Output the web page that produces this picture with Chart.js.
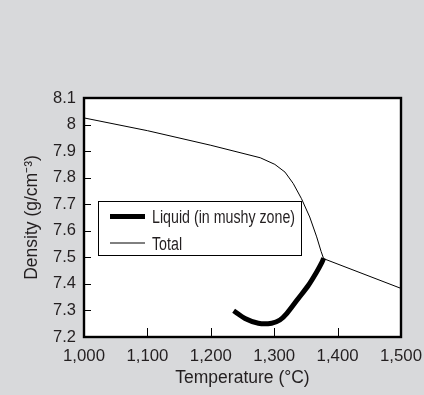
<!DOCTYPE html>
<html>
<head>
<meta charset="utf-8">
<script src="https://cdn.jsdelivr.net/npm/chart.js@4.4.0/dist/chart.umd.min.js"></script>
<style>
    html, body { margin: 0; padding: 0; background: #d8d9db; }
    canvas { display: block; }
</style>
</head>
<body>
<canvas id="densityChart" width="424" height="395"></canvas>
<script>
// Data
const totalTemps = [1000, 1100, 1200, 1278, 1301, 1317, 1330, 1343, 1356, 1367, 1374, 1378, 1500];
const totalDensity = [8.025, 7.977, 7.922, 7.875, 7.850, 7.821, 7.778, 7.721, 7.652, 7.577, 7.522, 7.495, 7.383];
const liquidTemps = [1236, 1254, 1275, 1296, 1309, 1320, 1338, 1354, 1367, 1375, 1378];
const liquidDensity = [7.299, 7.270, 7.252, 7.252, 7.264, 7.289, 7.345, 7.395, 7.445, 7.480, 7.497];
const xTickValues = [1000, 1100, 1200, 1300, 1400, 1500];
const xTickLabels = ["1,000", "1,100", "1,200", "1,300", "1,400", "1,500"];
const yTickValues = [7.2, 7.3, 7.4, 7.5, 7.6, 7.7, 7.8, 7.9, 8.0, 8.1];
const yTickLabels = ["7.2", "7.3", "7.4", "7.5", "7.6", "7.7", "7.8", "7.9", "8", "8.1"];

const textColor = "#231f20";
const fontFamily = "'Liberation Sans', Arial, sans-serif";

function toPoints(xs, ys) {
    return xs.map((x, i) => ({ x: x, y: ys[i] }));
}

// white plot area, frame, inward ticks, legend inside the plot
const framePlugin = {
    id: "frame",
    beforeDatasetsDraw(chart) {
        const a = chart.chartArea;
        const ctx = chart.ctx;
        ctx.save();
        ctx.fillStyle = "#ffffff";
        ctx.fillRect(a.left, a.top, a.right - a.left, a.bottom - a.top);
        ctx.restore();
    },
    afterDraw(chart) {
        const a = chart.chartArea;
        const ctx = chart.ctx;
        const xs = chart.scales.x;
        const ys = chart.scales.y;
        ctx.save();
        ctx.strokeStyle = "#000";
        ctx.lineWidth = 1;
        ctx.beginPath();
        xTickValues.forEach(v => {
            const px = Math.round(xs.getPixelForValue(v)) + 0.5;
            ctx.moveTo(px, a.bottom);
            ctx.lineTo(px, a.bottom - 9);
        });
        yTickValues.forEach(v => {
            const py = Math.round(ys.getPixelForValue(v)) + 0.5;
            ctx.moveTo(a.left, py);
            ctx.lineTo(a.left + 7, py);
        });
        ctx.stroke();

        ctx.lineWidth = 2.4;
        ctx.strokeRect(a.left, a.top, a.right - a.left, a.bottom - a.top);

        // legend
        const bx = 98.5, by = 201.5, bw = 203, bh = 54;
        ctx.fillStyle = "#fff";
        ctx.fillRect(bx, by, bw, bh);
        ctx.lineWidth = 1;
        ctx.strokeRect(bx, by, bw, bh);
        ctx.textBaseline = "alphabetic";
        ctx.textAlign = "left";
        const rows = [216.5, 243];
        chart.data.datasets.forEach((ds, i) => {
            const y = rows[i];
            ctx.strokeStyle = ds.borderColor;
            ctx.lineWidth = ds.borderWidth;
            ctx.beginPath();
            ctx.moveTo(110, y);
            ctx.lineTo(145, y);
            ctx.stroke();
            // condensed lettering like the original
            ctx.save();
            ctx.translate(152, y + 6.5);
            ctx.scale(0.79, 1);
            ctx.font = "18px " + fontFamily;
            ctx.fillStyle = textColor;
            ctx.fillText(ds.label, 0, 0);
            ctx.restore();
        });
        ctx.restore();
    }
};

new Chart(document.getElementById("densityChart"), {
    type: "scatter",
    data: {
        datasets: [
            {
                label: "Liquid (in mushy zone)",
                data: toPoints(liquidTemps, liquidDensity),
                showLine: true,
                borderColor: "#000",
                borderWidth: 5,
                pointRadius: 0,
                tension: 0.3
            },
            {
                label: "Total",
                data: toPoints(totalTemps, totalDensity),
                showLine: true,
                borderColor: "#000",
                borderWidth: 1,
                pointRadius: 0,
                tension: 0
            }
        ]
    },
    options: {
        responsive: false,
        animation: false,
        layout: { padding: { left: 0, top: 98, right: 23, bottom: 0 } },
        plugins: {
            legend: { display: false },
            tooltip: { enabled: false }
        },
        scales: {
            x: {
                type: "linear",
                min: 1000,
                max: 1500,
                afterFit: s => { s.height = 58; s.paddingLeft = 0; s.paddingRight = 0; },
                afterBuildTicks: s => { s.ticks = xTickValues.map(v => ({ value: v })); },
                grid: { display: false, drawTicks: false },
                border: { display: false },
                ticks: {
                    padding: 9,
                    color: textColor,
                    font: { family: fontFamily, size: 16.8 },
                    maxRotation: 0,
                    callback: (v) => xTickLabels[xTickValues.indexOf(v)]
                },
                title: {
                    display: true,
                    text: "Temperature (°C)",
                    color: textColor,
                    font: { family: fontFamily, size: 17.5 },
                    padding: { top: 0, bottom: 6 }
                }
            },
            y: {
                type: "linear",
                min: 7.2,
                max: 8.1,
                afterFit: s => { s.width = 84; s.paddingTop = 0; s.paddingBottom = 0; },
                afterBuildTicks: s => { s.ticks = yTickValues.map(v => ({ value: v })); },
                grid: { display: false, drawTicks: false },
                border: { display: false },
                ticks: {
                    padding: 8,
                    color: textColor,
                    font: { family: fontFamily, size: 16.5 },
                    callback: (v) => yTickLabels[yTickValues.indexOf(v)]
                },
                title: {
                    display: true,
                    text: "Density (g/cm\u207B\u00B3)",
                    color: textColor,
                    font: { family: fontFamily, size: 17.5 },
                    padding: { top: 22, bottom: 0 }
                }
            }
        }
    },
    plugins: [framePlugin]
});
</script>
</body>
</html>
